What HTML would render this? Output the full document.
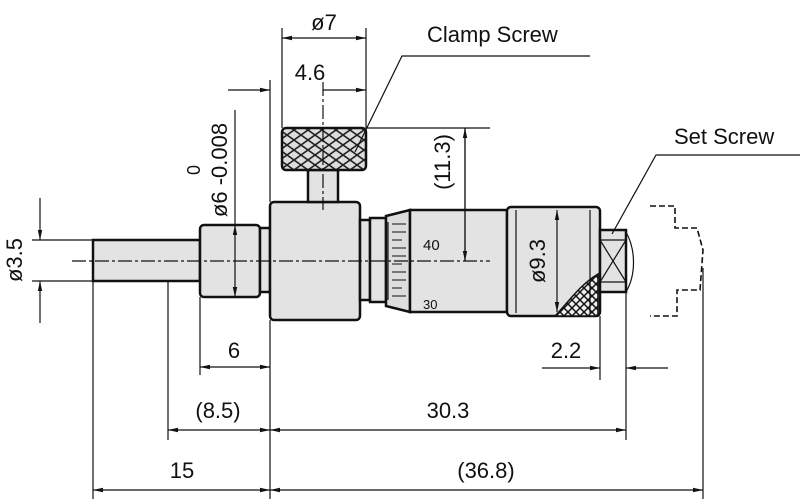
<!DOCTYPE html>
<html><head><meta charset="utf-8"><style>
html,body{margin:0;padding:0;background:#fff;}
svg{display:block;}
text{font-family:"Liberation Sans",sans-serif;fill:#111;}
</style></head><body>
<svg width="800" height="499" viewBox="0 0 800 499" xmlns="http://www.w3.org/2000/svg">
<defs>
<marker id="a" viewBox="0 0 10 6" refX="10" refY="3" markerWidth="10" markerHeight="6" orient="auto-start-reverse" markerUnits="userSpaceOnUse"><path d="M0,0.8 L10,3 L0,5.2z" fill="#111"/></marker>
<pattern id="kn" width="14" height="10" patternUnits="userSpaceOnUse"><rect width="14" height="10" fill="#ddd"/><path d="M0,0 L14,10 M14,0 L0,10" stroke="#222" stroke-width="1.6"/></pattern>
<pattern id="kn2" width="8" height="8" patternUnits="userSpaceOnUse"><rect width="8" height="8" fill="#eee"/><path d="M0,0 L8,8 M8,0 L0,8" stroke="#111" stroke-width="1.5"/></pattern>
</defs>
<g stroke="#111" fill="#e3e3e3" stroke-width="2.5">
<!-- spindle -->
<rect x="93" y="240" width="107" height="41"/>
<rect x="200" y="225" width="60" height="72" rx="4"/>
<rect x="260" y="228" width="10" height="64"/>
<rect x="270" y="202" width="90" height="118" rx="4"/>
<rect x="308" y="170" width="30" height="32"/>
<rect x="282" y="128" width="84" height="42" rx="4" fill="url(#kn)"/>
<rect x="360" y="220" width="10" height="80"/>
<rect x="370" y="218" width="16" height="84"/>
<path d="M386,216 L410,210 L410,312 L386,306Z" fill="#ddd"/>
<rect x="410" y="210" width="97" height="102"/>
<rect x="507" y="207" width="93" height="109" rx="4"/>
<rect x="600" y="230" width="26" height="62"/>
</g>
<path d="M598,274 L598,316 L555,316 C570,300 580,285 598,274Z" fill="url(#kn2)" stroke="#111" stroke-width="1.5"/>
<g stroke="#111" stroke-width="1.2" fill="none">
<line x1="388" y1="222" x2="388" y2="300" />
<path d="M392,224 h14 M392,232 h14 M392,240 h10 M392,248 h14 M392,256 h14 M392,264 h10 M392,272 h14 M392,280 h14 M392,288 h10 M392,296 h14" stroke-width="1"/>
<path d="M600,240 L626,282 M626,240 L600,282 M600,240 h26 M600,282 h26"/>
<path d="M626,232 C636,250 636,275 626,292"/>
<line x1="516" y1="210" x2="516" y2="313"/>
<line x1="590" y1="210" x2="590" y2="313"/>
<!-- dashed outline -->
<path d="M650,206 H675 V228 H697 L703,250 L700,290 H677 V316 H650" stroke-dasharray="6,3" stroke-width="1.6"/>
<!-- centerlines -->
<line x1="72" y1="261" x2="490" y2="261" stroke-dasharray="14,3,3,3"/>
<line x1="323" y1="82" x2="323" y2="210" stroke-dasharray="14,3,3,3"/>
<!-- ø7 -->
<line x1="282" y1="28" x2="282" y2="128"/><line x1="366" y1="28" x2="366" y2="128"/>
<line x1="282" y1="38" x2="366" y2="38" marker-start="url(#a)" marker-end="url(#a)"/>
<!-- 4.6 -->
<line x1="270" y1="80" x2="270" y2="202"/>
<line x1="228" y1="90" x2="270" y2="90" marker-end="url(#a)"/>
<line x1="323" y1="90" x2="366" y2="90" marker-end="url(#a)"/>
<!-- clamp leader -->
<path d="M355,152 L402,56 H590"/>
<!-- 11.3 -->
<line x1="366" y1="128" x2="490" y2="128"/>
<line x1="465" y1="261" x2="465" y2="128" marker-end="url(#a)"/>
<line x1="465" y1="128" x2="465" y2="261" marker-end="url(#a)"/>
<!-- ø6 -->
<line x1="235" y1="110" x2="235" y2="225"/>
<line x1="235" y1="261" x2="235" y2="225" marker-end="url(#a)"/>
<line x1="235" y1="261" x2="235" y2="297" marker-end="url(#a)"/>
<!-- ø3.5 -->
<line x1="32" y1="240" x2="93" y2="240"/><line x1="32" y1="281" x2="93" y2="281"/>
<line x1="40" y1="198" x2="40" y2="240" marker-end="url(#a)"/>
<line x1="40" y1="323" x2="40" y2="281" marker-end="url(#a)"/>
<!-- ø9.3 -->
<line x1="557" y1="261" x2="557" y2="210" marker-end="url(#a)"/>
<line x1="557" y1="261" x2="557" y2="312" marker-end="url(#a)"/>
<!-- set screw leader -->
<path d="M612,234 L656,155 H800"/>
<!-- extension lines -->
<line x1="93" y1="281" x2="93" y2="499"/>
<line x1="168" y1="281" x2="168" y2="440" stroke-dasharray="none"/>
<line x1="200" y1="297" x2="200" y2="375"/>
<line x1="270" y1="320" x2="270" y2="499"/>
<line x1="600" y1="316" x2="600" y2="380"/>
<line x1="626" y1="292" x2="626" y2="440"/>
<line x1="703" y1="268" x2="703" y2="499"/>
<!-- dims -->
<line x1="200" y1="367" x2="270" y2="367" marker-start="url(#a)" marker-end="url(#a)"/>
<line x1="168" y1="430" x2="270" y2="430" marker-start="url(#a)" marker-end="url(#a)"/>
<line x1="270" y1="430" x2="626" y2="430" marker-start="url(#a)" marker-end="url(#a)"/>
<line x1="93" y1="490" x2="270" y2="490" marker-start="url(#a)" marker-end="url(#a)"/>
<line x1="270" y1="490" x2="703" y2="490" marker-start="url(#a)" marker-end="url(#a)"/>
<line x1="542" y1="368" x2="600" y2="368" marker-end="url(#a)"/>
<line x1="668" y1="368" x2="626" y2="368" marker-end="url(#a)"/>
</g>
<g font-size="22">
<text x="324" y="30" text-anchor="middle">ø7</text>
<text x="310" y="80" text-anchor="middle">4.6</text>
<text x="427" y="42">Clamp Screw</text>
<text x="674" y="144">Set Screw</text>
<text x="234" y="358" text-anchor="middle">6</text>
<text x="218" y="418" text-anchor="middle">(8.5)</text>
<text x="448" y="418" text-anchor="middle">30.3</text>
<text x="182" y="478" text-anchor="middle">15</text>
<text x="486" y="478" text-anchor="middle">(36.8)</text>
<text x="566" y="358" text-anchor="middle">2.2</text>
<text transform="translate(22,260) rotate(-90)" text-anchor="middle">ø3.5</text>
<text transform="translate(227,170) rotate(-90)" text-anchor="middle">ø6 -0.008</text>
<text transform="translate(200,170) rotate(-90)" font-size="18" text-anchor="middle">0</text>
<text transform="translate(450,162) rotate(-90)" text-anchor="middle">(11.3)</text>
<text transform="translate(545,261) rotate(-90)" text-anchor="middle">ø9.3</text>
</g>
<text x="423" y="250" font-size="15">40</text>
<text x="423" y="309" font-size="13">30</text>
</svg>
</body></html>
